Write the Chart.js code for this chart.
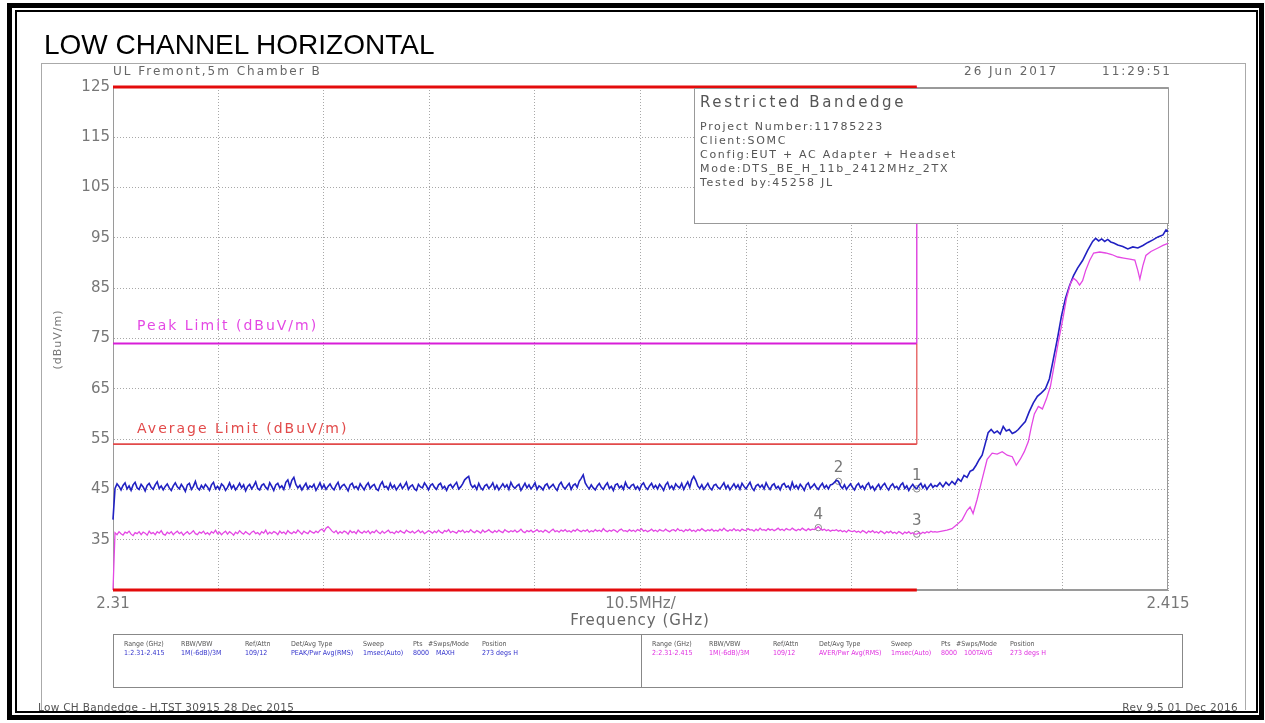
<!DOCTYPE html>
<html>
<head>
<meta charset="utf-8">
<title>Low Channel Horizontal</title>
<script src="https://cdn.jsdelivr.net/npm/chart.js@4.4.1/dist/chart.umd.min.js"></script>
<style>
  html, body { margin: 0; padding: 0; background: #fff; }
  body { width: 1265px; height: 723px; position: relative; overflow: hidden; font-family: "DejaVu Sans", sans-serif; }
  #chart { position: absolute; left: 0; top: 0; }
  .frame-outer { position: absolute; left: 7px; top: 3px; width: 1247px; height: 707px; border: 5px solid #000; }
  .frame-inner { position: absolute; left: 15px; top: 10px; width: 1239px; height: 699px; border: 2px solid #000; }
  .frame-plot { position: absolute; left: 41px; top: 63px; width: 1203px; height: 646px; border: 1px solid #aaa; border-bottom: none; }
  .title { position: absolute; left: 44px; top: 31px; font: 28px/28px "Liberation Sans", Arial, sans-serif; color: #000; white-space: nowrap; }
  .small { position: absolute; color: #666; white-space: pre; font-size: 12px; line-height: 12px; letter-spacing: 2px; }
  .ytitle { position: absolute; left: 22px; top: 334px; width: 70px; text-align: center; transform: rotate(-90deg); font-size: 11px; line-height: 11px; letter-spacing: 1px; color: #777; }
  .xtitle { position: absolute; left: 440px; width: 400px; top: 612px; text-align: center; font-size: 15px; line-height: 16px; letter-spacing: 1px; color: #666; }
  .info { position: absolute; left: 694px; top: 88px; width: 473px; height: 134px; border: 1px solid #999; background: #fff; color: #555; }
  .info .head { position: absolute; left: 5px; top: 5px; font-size: 15px; line-height: 16px; letter-spacing: 2.6px; }
  .info .lines { position: absolute; left: 5px; top: 31px; font-size: 11px; line-height: 14px; letter-spacing: 1.7px; white-space: pre; }
  .legend { position: absolute; left: 113px; top: 634px; width: 1068px; height: 52px; border: 1px solid #888; background: #fff; font-family: "DejaVu Sans Condensed", "DejaVu Sans", sans-serif; font-size: 7px; line-height: 9px; }
  .legend .div { position: absolute; left: 527px; top: 0; width: 1px; height: 52px; background: #888; }
  .legend span { position: absolute; white-space: nowrap; }
  .legend .h { top: 5px; color: #555; }
  .legend .v1 { top: 14px; color: #3333cc; }
  .legend .v2 { top: 14px; color: #e030e0; }
  .foot { position: absolute; top: 702px; font-size: 10.5px; line-height: 10px; letter-spacing: 0.3px; color: #555; white-space: pre; }
</style>
</head>
<body>
<canvas id="chart" width="1265" height="723"></canvas>
<div class="frame-outer"></div>
<div class="frame-inner"></div>
<div class="frame-plot"></div>
<div class="title">LOW CHANNEL HORIZONTAL</div>
<div class="small" style="left:113px; top:65px;">UL Fremont,5m Chamber B</div>
<div class="small" style="left:964px; top:65px;">26 Jun 2017</div>
<div class="small" style="left:1102px; top:65px;">11:29:51</div>
<div class="ytitle">(dBuV/m)</div>
<div class="xtitle">Frequency (GHz)</div>
<div class="info">
  <div class="head">Restricted Bandedge</div>
  <div class="lines">Project Number:11785223
Client:SOMC
Config:EUT + AC Adapter + Headset
Mode:DTS_BE_H_11b_2412MHz_2TX
Tested by:45258 JL</div>
</div>
<div class="legend" id="legend"><div class="div"></div></div>
<div class="foot" style="left:38px;">Low CH Bandedge - H.TST 30915 28 Dec 2015</div>
<div class="foot" style="right:27px;">Rev 9.5 01 Dec 2016</div>

<script>
// axis ticks (GHz and dBuV/m)
var xGridTicks = [2.31, 2.3205, 2.331, 2.3415, 2.352, 2.3625, 2.373, 2.3835, 2.394, 2.4045, 2.415];
var xTickLabels = ["2.31", "", "", "", "", "10.5MHz/", "", "", "", "", "2.415"];
var yGridTicks = [25, 35, 45, 55, 65, 75, 85, 95, 105, 115, 125];
var yTickLabels = ["", "35", "45", "55", "65", "75", "85", "95", "105", "115", "125"];

// limits
var bandEdgeFreq = 2.39;
var peakLimit = 74;
var avgLimit = 54;

// flat part of the sweep, read every 0.2 MHz from 2.31 GHz
var flatStart = 2.31;
var flatStep = 0.0002;
var peakFlatLevels = [
  39.0, 45.2, 46.1, 45.6, 44.9, 45.8, 46.3, 45.1, 45.7, 44.8,
  45.9, 46.4, 45.3, 45.0, 46.0, 45.5, 44.7, 45.8, 46.2, 45.4,
  45.0, 45.9, 46.5, 45.2, 45.7, 44.9, 45.6, 46.1, 45.3, 44.8,
  45.7, 46.3, 45.5, 45.1, 46.0, 45.4, 44.6, 45.9, 46.2, 45.0,
  45.6, 46.6, 45.3, 44.9, 45.8, 45.2, 46.0, 45.5, 44.8, 45.9,
  46.4, 45.1, 45.6, 45.0, 46.1, 45.7, 44.8, 45.4, 46.3, 45.2,
  45.8, 44.9, 45.5, 46.2, 45.3, 45.9, 44.7, 45.6, 46.0, 45.1,
  45.7, 46.5, 45.2, 44.9, 45.8, 46.1, 45.4, 45.0, 46.3, 45.6,
  44.8, 45.9, 46.2, 45.3, 45.7, 45.0, 46.4, 46.9, 45.5, 46.8,
  47.4, 46.0, 45.3, 45.8, 44.9, 45.6, 46.2, 45.1, 45.7, 45.4,
  46.0, 44.8, 45.5, 46.3, 45.2, 45.9, 45.0, 45.6, 46.1, 45.3,
  44.9, 45.8, 46.4, 45.1, 45.7, 46.0, 45.4, 44.7, 45.9, 46.2,
  45.3, 45.6, 45.0, 46.1, 45.5, 44.9, 45.8, 46.3, 45.2, 45.7,
  46.0, 45.1, 44.8, 45.9, 46.5, 45.4, 45.6, 45.0, 46.2, 45.3,
  45.8, 44.9, 45.5, 46.1, 45.2, 45.7, 46.4, 45.0, 45.6, 45.9,
  45.1, 44.8, 46.0, 45.5, 45.3, 46.3, 45.7, 44.9, 45.8, 46.1,
  45.4, 45.0, 45.9, 46.2, 45.2, 45.6, 44.8, 45.7, 46.0, 45.3,
  45.9, 46.4, 45.1, 45.5, 46.1, 46.9, 47.3, 47.6, 46.0, 45.4,
  45.8, 45.0, 46.2, 45.3, 44.9, 45.7, 46.0, 45.2, 45.6, 46.3,
  45.1, 45.8, 44.9, 45.5, 46.1, 45.4, 45.9, 45.0, 46.4, 45.6,
  45.2, 45.7, 46.0, 44.8, 45.5, 46.2, 45.3, 45.9, 45.1, 45.6,
  46.3, 45.0, 45.7, 45.4, 44.9, 45.8, 46.1, 45.2, 45.6, 46.0,
  45.3, 44.8, 45.9, 46.4, 45.5, 45.1, 45.7, 46.2, 45.0, 45.8,
  46.1, 45.4, 46.6, 47.2, 47.9, 46.3, 45.6, 45.1, 45.9, 45.3,
  44.9, 45.7, 46.2, 45.4, 45.0, 45.8, 46.3, 45.2, 45.6, 44.8,
  45.9, 46.1, 45.3, 45.7, 45.0, 46.4, 45.5, 45.2, 45.8, 46.0,
  45.1, 45.6, 44.9, 45.9, 46.3, 45.4, 45.0, 45.7, 46.2, 45.3,
  45.8, 45.1, 46.0, 45.5, 44.8, 45.9, 46.4, 45.2, 45.7, 45.0,
  46.1, 45.6, 45.3, 46.2, 45.0, 45.8, 46.5, 45.4, 46.9, 47.6,
  46.8, 45.7, 45.2, 45.9, 45.0, 45.6, 46.2, 45.3, 44.9, 45.8,
  46.0, 45.4, 45.1, 45.7, 46.3, 45.2, 45.8, 44.9, 45.5, 46.1,
  45.3, 45.9, 45.0, 46.2, 45.6, 45.1, 45.8, 46.4, 45.3, 44.8,
  45.7, 46.0, 45.4, 45.9, 45.1, 46.3, 45.5, 45.0, 45.8, 46.1,
  45.2, 45.6, 44.9, 45.9, 46.2, 45.4, 45.7, 45.0, 46.4, 45.3,
  45.8, 45.1, 46.0, 45.5, 44.8, 45.9, 46.3, 45.2, 45.6, 46.1,
  45.4, 45.0, 45.7, 46.2, 45.3, 45.8, 45.1, 45.9, 46.0, 46.4,
  46.8, 46.6, 45.7, 45.2, 45.9, 45.0, 45.6, 46.1, 45.4, 44.9,
  45.8, 46.2, 45.3, 45.7, 45.0, 45.9, 46.3, 45.2, 45.6, 44.8,
  45.5, 46.0, 45.1, 45.8, 46.2, 45.4, 44.9, 45.7, 46.1, 45.3,
  45.6, 45.0, 45.9, 46.3, 45.2, 45.7, 44.8, 45.5, 46.0, 45.4,
  45.1, 45.8, 46.2, 45.3, 45.9, 45.0, 45.6, 46.1, 45.4, 45.8
];
var avgFlatLevels = [
  25.0, 36.4, 36.0, 36.6, 36.2, 35.9, 36.5, 36.3, 36.7, 36.1,
  35.8, 36.4, 36.2, 36.6, 36.0, 36.5, 36.3, 35.9, 36.7, 36.2,
  36.4, 36.0, 36.6, 36.3, 36.8, 36.1, 35.9, 36.5, 36.2, 36.6,
  36.0, 36.4, 36.7, 36.2, 36.5, 35.9, 36.3, 36.6, 36.1, 36.4,
  36.8, 36.2, 36.0, 36.5, 36.3, 36.7, 36.1, 36.4, 36.0, 36.6,
  36.3, 36.9, 36.2, 36.5, 36.0, 36.4, 36.7, 36.1, 36.6, 36.3,
  35.9, 36.5, 36.2, 36.8, 36.4, 36.1, 36.6, 36.3, 36.0, 36.5,
  36.7, 36.2, 36.4, 36.0, 36.6, 36.3, 36.9, 36.1, 36.5, 36.2,
  36.6, 36.4, 36.0, 36.7, 36.3, 36.5, 36.1, 36.8, 36.4, 36.2,
  36.6, 36.3, 36.9, 36.5, 36.1, 36.7, 36.4, 36.2, 36.8, 36.5,
  36.3, 36.7, 36.4, 36.9, 37.1, 36.6, 37.3, 37.6, 37.2, 36.7,
  36.4, 36.8, 36.2, 36.6, 36.3, 36.7, 36.5, 36.1, 36.8, 36.4,
  36.6, 36.2, 36.9, 36.5, 36.3, 36.7, 36.4, 36.8, 36.2, 36.6,
  36.4, 36.9, 36.5, 36.2, 36.7, 36.3, 36.6, 36.9, 36.4, 36.5,
  36.2, 36.7, 36.4, 36.8, 36.5, 36.3, 36.9, 36.6, 36.4, 36.7,
  36.3, 36.6, 36.9, 36.4, 36.7, 36.2, 36.5, 36.8, 36.6, 36.3,
  36.7, 36.4, 36.9, 36.5, 36.3, 36.8, 36.6, 37.0, 36.4, 36.7,
  36.5, 36.3, 36.8, 36.6, 36.9, 36.4, 36.7, 36.5, 37.0, 36.6,
  36.4, 36.8, 36.6, 36.3, 36.9, 36.5, 36.7, 37.0, 36.6, 36.4,
  36.8, 36.5, 36.9, 36.6, 36.4, 37.0, 36.7, 36.5, 36.8, 36.6,
  36.9, 36.5, 36.7, 37.1, 36.6, 36.4, 36.8, 36.6, 36.9, 36.5,
  36.7, 37.0, 36.6, 36.8, 36.5, 36.9, 36.7, 36.4, 36.8, 37.1,
  36.6, 36.8, 36.5, 36.9, 36.7, 37.0, 36.6, 36.8, 36.5, 36.9,
  36.7, 37.1, 36.8, 36.6, 36.9, 36.7, 37.0, 36.5, 36.8, 36.6,
  37.0, 36.7, 36.9, 36.6, 37.2, 36.8, 36.6, 36.9, 36.7, 37.0,
  36.8, 36.5, 36.9, 37.1, 36.7, 36.8, 36.6, 37.0, 36.7, 36.9,
  36.6, 37.0, 36.8, 37.2, 36.7, 36.9, 36.6, 36.8, 37.1, 36.7,
  36.9, 36.6, 37.0, 36.8, 36.7, 37.1, 36.8, 36.6, 36.9, 37.0,
  36.7, 37.2, 36.8, 36.9, 36.6, 37.0, 36.8, 37.1, 36.7, 36.9,
  36.6, 37.0, 36.8, 37.2, 36.9, 36.7, 37.0, 36.8, 37.1, 36.7,
  36.9, 36.7, 37.1, 36.8, 37.3, 36.9, 36.7, 37.0, 36.8, 37.2,
  36.8, 37.0, 36.7, 37.1, 36.9, 36.8, 37.2, 36.9, 37.0, 36.7,
  37.1, 36.8, 37.3, 36.9, 37.0, 36.8, 37.2, 36.9, 37.1, 36.8,
  37.0, 37.3, 36.9, 37.1, 36.8, 37.2, 37.0, 36.9, 37.3, 37.0,
  36.8, 37.1, 36.9, 37.3, 37.0, 36.8, 37.2, 36.9, 37.1, 37.0,
  37.3, 37.6, 37.2, 36.9, 37.1, 36.8, 37.0, 36.7, 36.9, 36.8,
  37.0, 36.7, 36.9, 36.6, 36.8, 36.5, 36.9, 36.7, 36.6, 36.8,
  36.5, 36.7, 36.4, 36.8, 36.6, 36.3, 36.7, 36.5, 36.8, 36.4,
  36.6, 36.3, 36.7, 36.5, 36.2, 36.6, 36.4, 36.7, 36.3, 36.5,
  36.2, 36.6, 36.4, 36.1, 36.5, 36.3, 36.6, 36.2, 36.4, 36.1,
  36.1, 36.4, 36.2, 36.5, 36.3, 36.6, 36.4, 36.7, 36.5, 36.6
];

// band edge skirt, read point by point
var peakEdgeFreqs = [
  2.3920, 2.3923, 2.3926, 2.3929, 2.3932, 2.3935, 2.3938, 2.3941, 2.3944, 2.3947,
  2.3950, 2.3953, 2.3956, 2.3959, 2.3962, 2.3965, 2.3968, 2.3971, 2.3974, 2.3977,
  2.3980, 2.3983, 2.3986, 2.3989, 2.3992, 2.3995, 2.3998, 2.4001, 2.4004, 2.4008,
  2.4012, 2.4016, 2.4020, 2.4024, 2.4028, 2.4032, 2.4036, 2.4040, 2.4044, 2.4048,
  2.4052, 2.4056, 2.4060, 2.4065, 2.4070, 2.4075, 2.4078, 2.4081, 2.4084, 2.4087,
  2.4090, 2.4093, 2.4096, 2.4100, 2.4105, 2.4110, 2.4115, 2.4120, 2.4125, 2.4130,
  2.4135, 2.4140, 2.4145, 2.4148, 2.4150
];
var peakEdgeLevels = [
  45.6, 46.3, 45.5, 46.4, 45.8, 46.6, 46.0, 47.1, 46.6, 47.8,
  47.4, 48.6, 48.9, 49.8, 50.9, 51.8, 54.0, 56.3, 56.9, 56.2,
  56.6, 56.0, 57.5, 56.6, 56.9, 56.1, 56.4, 56.9, 57.6, 58.5,
  60.5, 62.2, 63.5, 64.2, 65.0, 67.0, 71.0, 75.0, 79.5, 83.0,
  85.5, 87.5, 89.0, 90.5, 92.5, 94.3, 94.9, 94.4, 94.8, 94.3,
  94.7, 94.2, 94.0, 93.6, 93.3, 92.8, 93.2, 93.0, 93.5, 94.1,
  94.6, 95.2, 95.6, 96.6, 96.3
];
var avgEdgeFreqs = [
  2.3920, 2.3925, 2.3930, 2.3935, 2.3940, 2.3945, 2.3950, 2.3953, 2.3956, 2.3960,
  2.3965, 2.3970, 2.3975, 2.3980, 2.3985, 2.3990, 2.3995, 2.3999, 2.4003, 2.4007,
  2.4011, 2.4014, 2.4017, 2.4021, 2.4025, 2.4029, 2.4033, 2.4037, 2.4041, 2.4045,
  2.4049, 2.4053, 2.4056, 2.4059, 2.4062, 2.4065, 2.4068, 2.4072, 2.4076, 2.4082,
  2.4088, 2.4094, 2.4100, 2.4106, 2.4112, 2.4117, 2.4120, 2.4122, 2.4125, 2.4128,
  2.4133, 2.4140, 2.4145, 2.4150
];
var avgEdgeLevels = [
  36.5, 36.7, 36.9, 37.2, 38.0, 38.9, 40.8, 41.5, 40.2, 43.0,
  47.0, 51.0, 52.2, 52.0, 52.5, 51.8, 51.5, 49.8, 51.0, 52.5,
  54.5, 57.5, 60.0, 61.5, 61.0, 63.0, 65.5, 70.0, 74.5, 78.5,
  83.0, 86.0, 87.0, 86.5, 85.6, 86.5, 88.5, 90.5, 92.0, 92.2,
  92.0, 91.7, 91.2, 91.0, 90.8, 90.6, 88.5, 86.8, 89.5, 91.5,
  92.3, 93.0, 93.5, 93.9
];

// markers
var markerNames = ["1", "2", "3", "4"];
var markerFreqs = [2.39, 2.3822, 2.39, 2.3802];
var markerLevels = [45.1, 46.6, 36.1, 37.4];

// legend table
var legendHeads = ["Range (GHz)", "RBW/VBW", "Ref/Attn", "Det/Avg Type", "Sweep", "Pts", "#Swps/Mode", "Position"];
var legendTrace1 = ["1:2.31-2.415", "1M(-6dB)/3M", "109/12", "PEAK/Pwr Avg(RMS)", "1msec(Auto)", "8000", "MAXH", "273 degs H"];
var legendTrace2 = ["2:2.31-2.415", "1M(-6dB)/3M", "109/12", "AVER/Pwr Avg(RMS)", "1msec(Auto)", "8000", "100TAVG", "273 degs H"];

(function () {
  var peakColor = "#2121c2";
  var avgColor = "#e448e4";
  var peakLimitColor = "#d81ed8";
  var avgLimitColor = "#e24a4a";
  var edgeRed = "#e30b0b";
  var textGray = "#777";

  function buildTrace(flat, edgeFreqs, edgeLevels) {
    var pts = flat.map(function (v, i) {
      return { x: flatStart + i * flatStep, y: v };
    });
    edgeFreqs.forEach(function (f, i) {
      pts.push({ x: f, y: edgeLevels[i] });
    });
    return pts;
  }

  function lineSet(data, color, width) {
    return {
      data: data,
      showLine: true,
      borderColor: color,
      backgroundColor: color,
      borderWidth: width,
      pointRadius: 0,
      tension: 0,
      clip: false,
    };
  }

  // legend columns (value column for #Swps/Mode sits a bit to the right)
  var headCols = [10, 67, 131, 177, 249, 299, 314, 368];
  var valueCols = [10, 67, 131, 177, 249, 299, 322, 368];
  var legendRightStart = 528;
  var legend = document.getElementById("legend");
  function addSpan(text, cls, left) {
    var s = document.createElement("span");
    s.className = cls;
    s.style.left = left + "px";
    s.textContent = text;
    legend.appendChild(s);
  }
  legendHeads.forEach(function (h, i) {
    addSpan(h, "h", headCols[i]);
    addSpan(h, "h", legendRightStart + headCols[i]);
    addSpan(legendTrace1[i], "v1", valueCols[i]);
    addSpan(legendTrace2[i], "v2", legendRightStart + valueCols[i]);
  });

  var overlay = {
    id: "overlay",
    beforeDatasetsDraw: function (chart) {
      var a = chart.chartArea;
      var ctx = chart.ctx;
      ctx.save();
      ctx.strokeStyle = "#9a9a9a";
      ctx.lineWidth = 1;
      ctx.strokeRect(a.left + 0.5, a.top + 0.5, a.right - a.left - 1, a.bottom - a.top - 1);
      ctx.restore();
    },
    afterDatasetsDraw: function (chart) {
      var xs = chart.scales.x;
      var ys = chart.scales.y;
      var ctx = chart.ctx;
      ctx.save();
      ctx.font = "14px 'DejaVu Sans', sans-serif";
      ctx.letterSpacing = "2px";
      ctx.textBaseline = "alphabetic";
      ctx.textAlign = "left";
      ctx.fillStyle = avgColor;
      ctx.fillText("Peak Limit (dBuV/m)", xs.getPixelForValue(2.3124), ys.getPixelForValue(76.6));
      ctx.fillStyle = avgLimitColor;
      ctx.fillText("Average Limit (dBuV/m)", xs.getPixelForValue(2.3124), ys.getPixelForValue(56.2));

      ctx.letterSpacing = "0px";
      ctx.font = "15px 'DejaVu Sans', sans-serif";
      ctx.fillStyle = textGray;
      ctx.textAlign = "center";
      ctx.textBaseline = "middle";
      markerNames.forEach(function (name, i) {
        var px = xs.getPixelForValue(markerFreqs[i]);
        var py = ys.getPixelForValue(markerLevels[i]);
        ctx.fillText(name, px, py - 13);
      });
      ctx.restore();
    },
  };

  new Chart(document.getElementById("chart"), {
    type: "scatter",
    data: {
      datasets: [
        lineSet([{ x: xGridTicks[0], y: 125 }, { x: bandEdgeFreq, y: 125 }], edgeRed, 3),
        lineSet([{ x: xGridTicks[0], y: 25 }, { x: bandEdgeFreq, y: 25 }], edgeRed, 3),
        lineSet(buildTrace(avgFlatLevels, avgEdgeFreqs, avgEdgeLevels), avgColor, 1.3),
        lineSet(buildTrace(peakFlatLevels, peakEdgeFreqs, peakEdgeLevels), peakColor, 1.6),
        lineSet([{ x: bandEdgeFreq, y: peakLimit }, { x: bandEdgeFreq, y: 125 }], peakLimitColor, 1.2),
        lineSet([{ x: bandEdgeFreq, y: avgLimit }, { x: bandEdgeFreq, y: peakLimit }], avgLimitColor, 1.2),
        lineSet([{ x: xGridTicks[0], y: peakLimit }, { x: bandEdgeFreq, y: peakLimit }], peakLimitColor, 2),
        lineSet([{ x: xGridTicks[0], y: avgLimit }, { x: bandEdgeFreq, y: avgLimit }], avgLimitColor, 1.8),
        {
          data: markerFreqs.map(function (f, i) {
            return { x: f, y: markerLevels[i] };
          }),
          showLine: false,
          pointRadius: 3.2,
          pointBorderWidth: 1,
          pointBorderColor: "#888",
          pointBackgroundColor: "rgba(255,255,255,0)",
          clip: false,
        },
      ],
    },
    options: {
      responsive: false,
      animation: false,
      devicePixelRatio: 1,
      layout: { padding: { left: 0, top: 87, right: 97, bottom: 0 } },
      plugins: {
        legend: { display: false },
        tooltip: { enabled: false },
      },
      scales: {
        x: {
          type: "linear",
          min: xGridTicks[0],
          max: xGridTicks[xGridTicks.length - 1],
          afterBuildTicks: function (scale) {
            scale.ticks = xGridTicks.map(function (v) {
              return { value: v };
            });
          },
          afterFit: function (scale) {
            scale.height = 133;
          },
          grid: { color: "#a8a8a8", lineWidth: 1, drawTicks: false },
          border: { display: true, color: "#9a9a9a", dash: [1, 2] },
          ticks: {
            autoSkip: false,
            maxRotation: 0,
            padding: 5,
            color: textGray,
            font: { size: 15, family: "'DejaVu Sans', sans-serif" },
            callback: function (value, index) {
              return xTickLabels[index];
            },
          },
        },
        y: {
          type: "linear",
          min: 25,
          max: 125,
          afterBuildTicks: function (scale) {
            scale.ticks = yGridTicks.map(function (v) {
              return { value: v };
            });
          },
          afterFit: function (scale) {
            scale.width = 113;
          },
          grid: { color: "#a8a8a8", lineWidth: 1, drawTicks: false },
          border: { display: true, color: "#9a9a9a", dash: [1, 2] },
          ticks: {
            autoSkip: false,
            padding: 3,
            color: textGray,
            font: { size: 15, family: "'DejaVu Sans', sans-serif" },
            callback: function (value, index) {
              return yTickLabels[index];
            },
          },
        },
      },
    },
    plugins: [overlay],
  });
})();
</script>
</body>
</html>
